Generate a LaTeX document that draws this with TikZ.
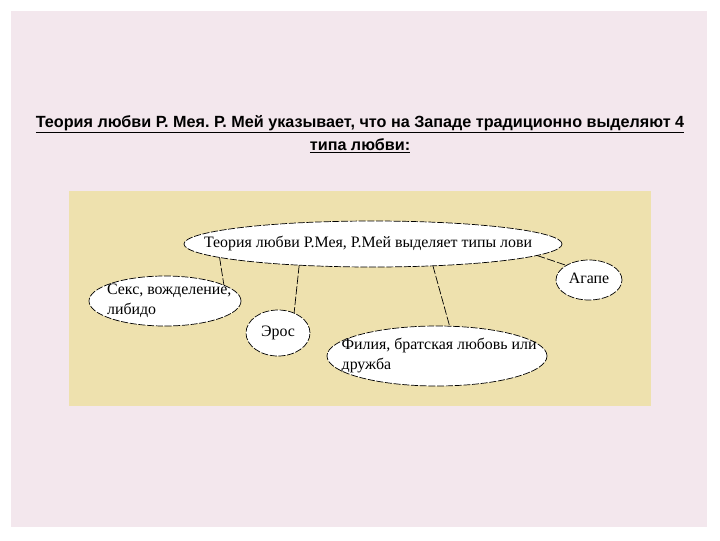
\documentclass[tikz,border=0pt]{standalone}
\usepackage{fontspec}
\setmainfont{Liberation Serif}
\newfontfamily\headfont{Liberation Sans}
\usetikzlibrary{shapes.geometric}

\definecolor{slidepink}{RGB}{243,231,237}
\definecolor{panelsand}{RGB}{238,225,174}
\def\pxu{0.025cm}
% text that does not widen the ellipse round it
\newcommand{\flattext}[2][0pt]{\raisebox{-.45em}{\makebox[0pt]{\hspace*{#1}\smash{\begin{tabular}{@{}l@{}}#2\end{tabular}}}}}
\frenchspacing

\begin{document}
\begin{tikzpicture}[
		x=\pxu, y=-\pxu,
		bubble/.style={draw, ellipse, fill=white, line width=0.5pt, dash pattern=on 5pt off 1.2pt,
			inner sep=0pt, outer sep=0pt, font=\fontsize{11.3}{14.3}\selectfont},
		link/.style={line width=0.5pt, dash pattern=on 6pt off 1.5pt}
		]
		% slide and panel
		\useasboundingbox (0,0) rectangle (720,540);
		\fill[white] (0,0) rectangle (720,540);
		\fill[slidepink] (11,11) rectangle (707,527);
		\fill[panelsand] (69,191) rectangle (651,406);
		
		\node[align=center, font=\headfont\bfseries\fontsize{11.5}{16.4}\selectfont] (title) at (360,134)
			{\underline{Теория любви Р. Мея. Р. Мей указывает, что на Западе традиционно выделяют 4}\\
			 \underline{типа любви:}};
		
		\node[bubble, minimum width=378*\pxu, minimum height=46*\pxu] (theory) at (373,244)
			{\flattext[-7pt]{Теория любви Р.Мея, Р.Мей выделяет типы лови}};
		\node[bubble, minimum width=152*\pxu, minimum height=50*\pxu] (sex) at (165,301)
			{\flattext[6pt]{Секс, вожделение,\\ либидо}};
		\node[bubble, minimum width=64*\pxu, minimum height=46*\pxu] (eros) at (278,333)
			{\flattext{Эрос}};
		\node[bubble, minimum width=220*\pxu, minimum height=60*\pxu] (filia) at (437,356)
			{\flattext[3pt]{Филия, братская любовь или\\ дружба}};
		\node[bubble, minimum width=66*\pxu, minimum height=40*\pxu] (agape) at (589,280)
			{\flattext{Агапе}};
		
		\draw[link] (theory.185) -- (sex.15);
		\draw[link] (theory.196) -- (eros.51);
		\draw[link] (theory.340) -- (filia.67);
		\draw[link] (theory.356) -- (agape.147);
		
	\end{tikzpicture}
\end{document}
